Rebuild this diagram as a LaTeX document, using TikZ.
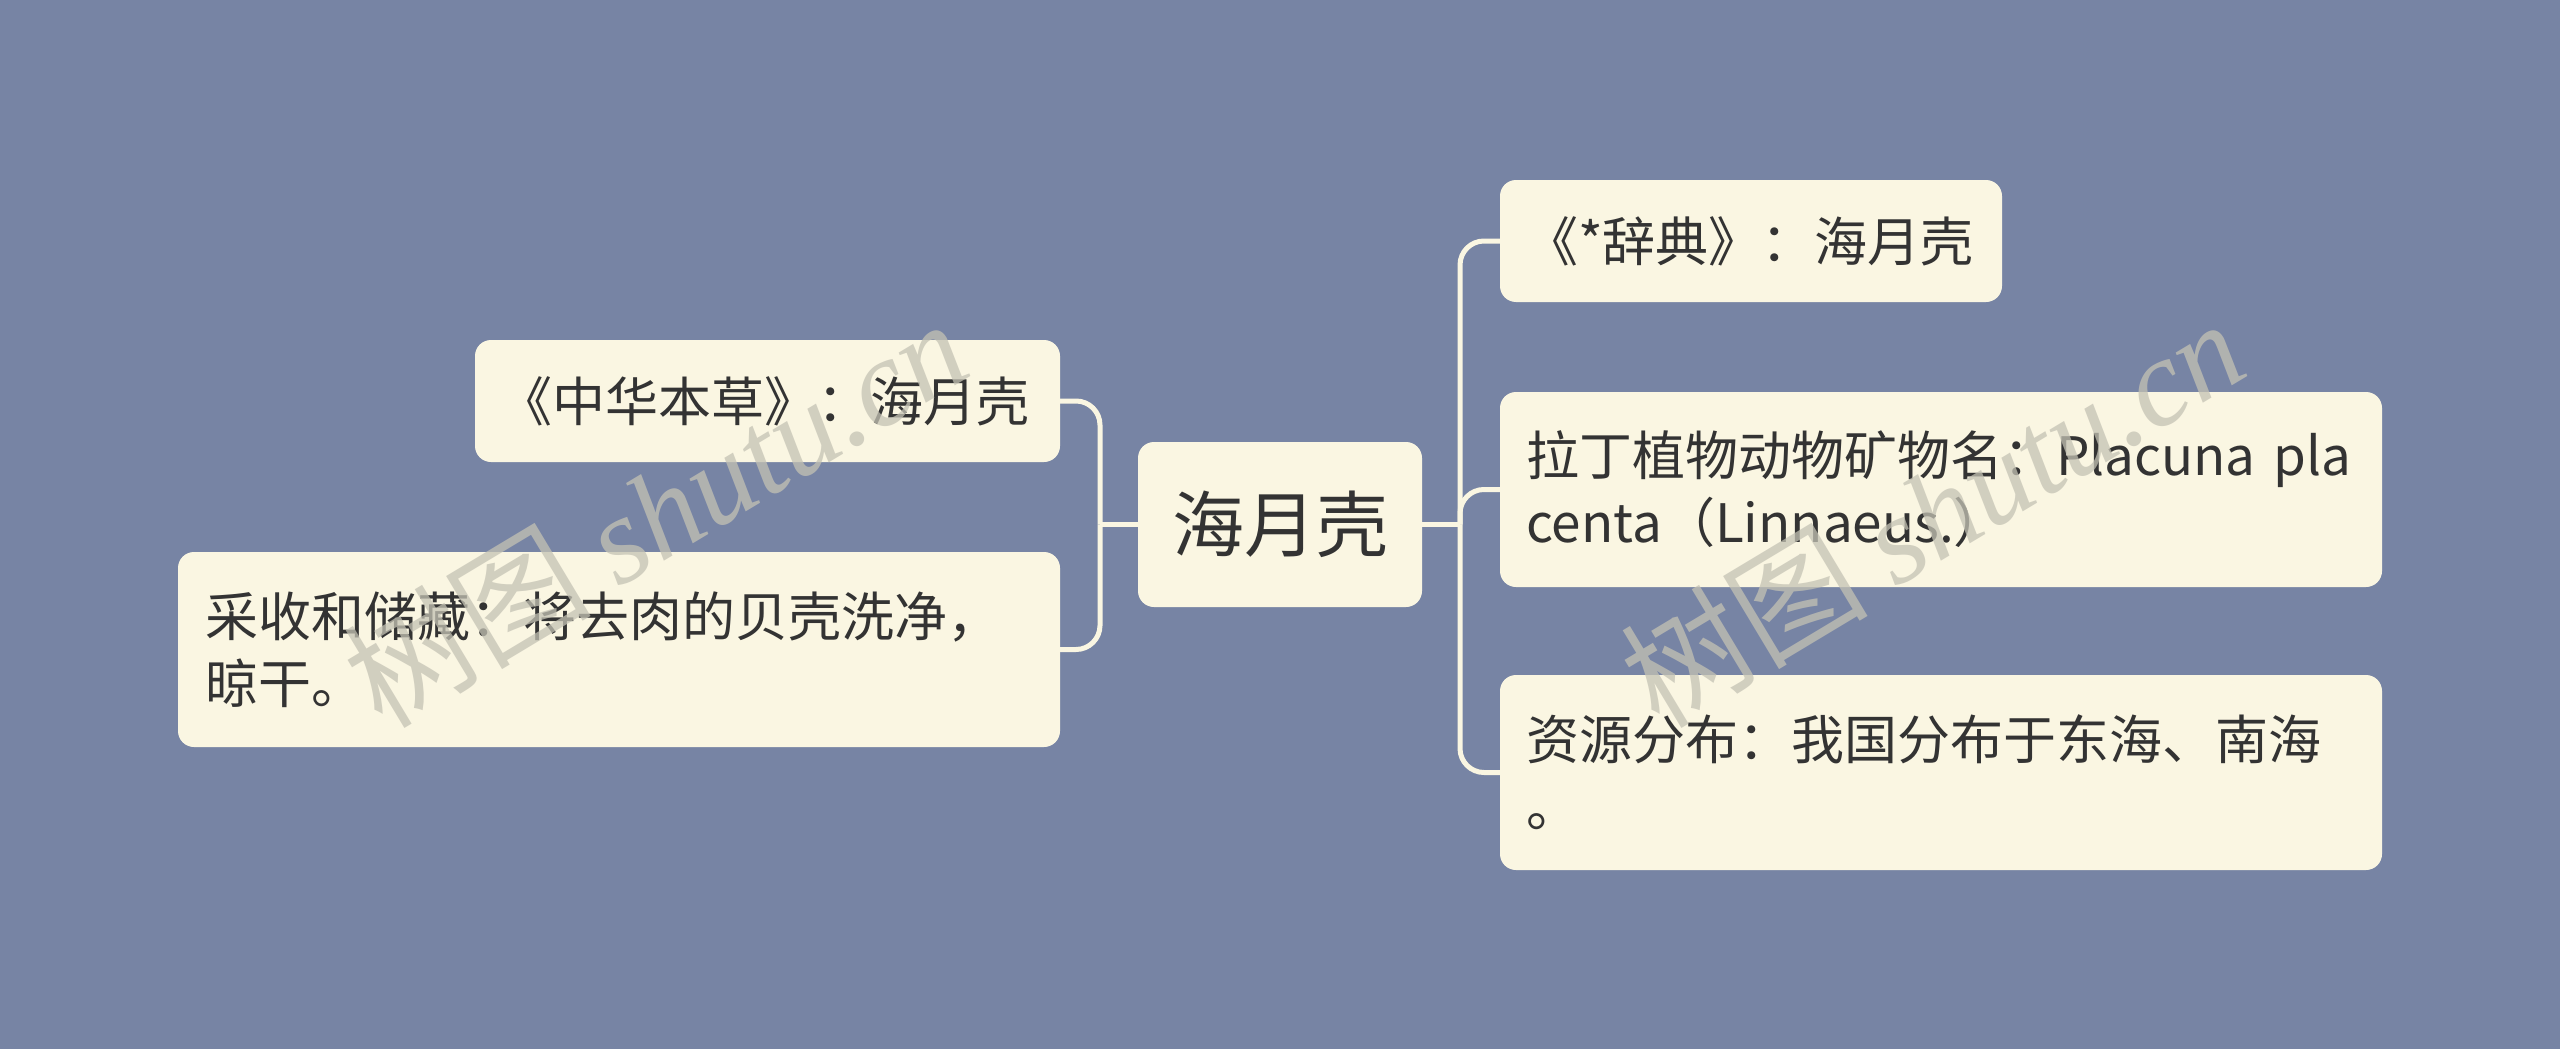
\documentclass[tikz,border=0pt]{standalone}
\usepackage{fontspec}
\setmainfont{Noto Sans CJK SC}
\newfontfamily\wmlatin{Liberation Serif}
\newfontfamily\wmcjk{Noto Sans CJK SC}
\definecolor{bgc}{HTML}{7784A4}
\definecolor{boxc}{HTML}{FAF6E2}
\definecolor{txtc}{HTML}{333333}
\definecolor{wmc}{HTML}{C4C2B4}
\begin{document}
\begin{tikzpicture}[x=1pt,y=-1pt,
  box/.style={fill=boxc, rounded corners=16pt, inner xsep=0pt, inner ysep=0pt,
    align=left, text=txtc, font=\fontsize{53}{67}\selectfont, anchor=center},
  conn/.style={draw=boxc, line width=5pt, rounded corners=24pt},
  wmark/.style={text=wmc, opacity=0.75, rotate=31, inner sep=0pt,
    font=\fontsize{124}{124}\selectfont}]
\fill[bgc] (0,0) rectangle (2560,1049);
\useasboundingbox (0,0) rectangle (2560,1049);

% center
\node[box, minimum width=284pt, minimum height=165pt, text width=220pt, align=center,
  font=\fontsize{72}{80}\selectfont] (c) at (1280,524.5) {海月壳};

% left
\node[box, minimum width=585pt, minimum height=122pt, text width=536pt] (l1) at (767.5,401)
  {《中华本草》：海月壳};
\node[box, minimum width=882pt, minimum height=195pt, text width=828pt] (l2) at (619,649.5)
  {采收和储藏：将去肉的贝壳洗净，\\晾干。};

% right
\node[box, minimum width=502pt, minimum height=122pt, text width=452pt] (r1) at (1751,241)
  {《*辞典》：海月壳};
\node[box, minimum width=882pt, minimum height=195pt, text width=830pt] (r2) at (1941,489.5)
  {拉丁植物动物矿物名：Placuna~pla\\centa（Linnaeus.）};
\node[box, minimum width=882pt, minimum height=195pt, text width=830pt] (r3) at (1941,772.5)
  {资源分布：我国分布于东海、南海\\。};

% connectors
\coordinate (rt) at (1460,524.5);
\coordinate (lt) at (1100,524.5);
\draw[conn] (c.east) -- (rt);
\draw[conn] (rt) |- (r1.west);
\draw[conn] (rt) |- (r2.west);
\draw[conn] (rt) |- (r3.west);
\draw[conn] (c.west) -- (lt);
\draw[conn] (lt) |- (l1.east);
\draw[conn] (lt) |- (l2.east);

% watermarks
\node[wmark] (w1) at (655,512) {{\wmcjk 树图} {\wmlatin\itshape shutu.cn}};
\node[wmark] (w2) at (1932,512) {{\wmcjk 树图} {\wmlatin\itshape shutu.cn}};
\end{tikzpicture}
\end{document}
